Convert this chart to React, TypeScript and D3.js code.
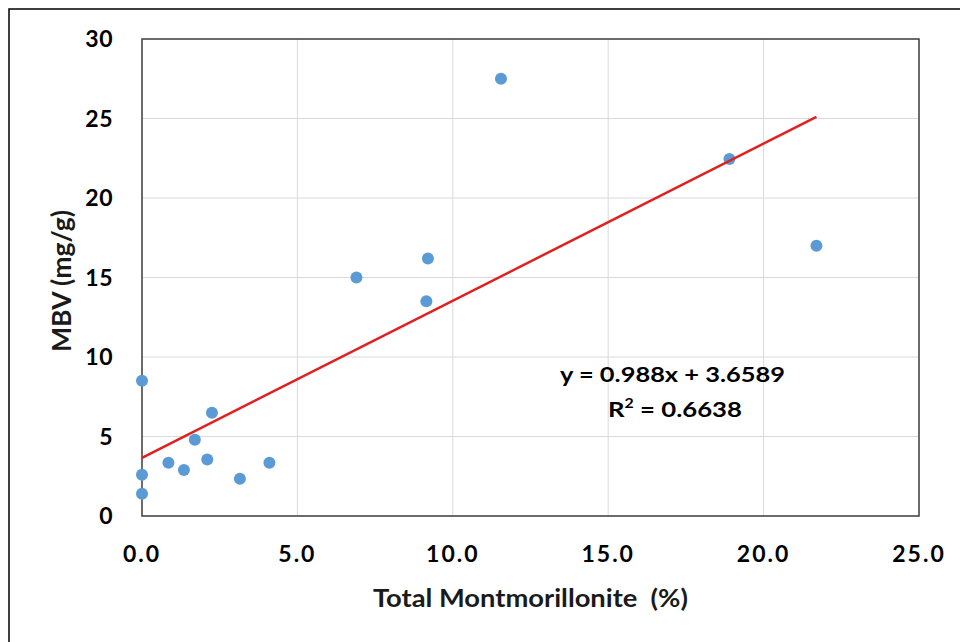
import React from "react";
import * as d3 from "d3";

const xValues = [0, 0, 0, 0.85, 1.35, 1.7, 2.1, 2.25, 3.15, 4.1, 6.9, 9.15, 9.2, 11.55, 18.9, 21.7];
const yValues = [8.5, 2.6, 1.4, 3.35, 2.9, 4.8, 3.55, 6.5, 2.35, 3.35, 15.0, 13.5, 16.2, 27.5, 22.45, 17.0];
const xTicks = [0, 5, 10, 15, 20, 25];
const yTicks = [0, 5, 10, 15, 20, 25, 30];
const slope = 0.988;
const intercept = 3.6589;
const fitRange = [0, 21.7];
const equationText = "y = 0.988x + 3.6589";
const r2Text = " = 0.6638";
const xTitle = "Total Montmorillonite  (%)";
const yTitle = "MBV (mg/g)";

export default function App() {
  const W = 960, H = 642;
  const left = 142, right = 919, top = 39, bottom = 516;
  const x = d3.scaleLinear().domain([0, 25]).range([left, right]);
  const y = d3.scaleLinear().domain([0, 30]).range([bottom, top]);
  const font = "Lato, 'Open Sans', sans-serif";
  const line = d3.line<number>().x((d) => x(d)).y((d) => y(slope * d + intercept));
  return (
    <svg width={W} height={H} style={{ position: "absolute", left: 0, top: 0, background: "#fff" }}>
      <rect x={9} y={9} width={W} height={H} fill="#fff" stroke="#000" strokeWidth={1.5} />
      {xTicks.map((t) => (
        <line key={"gx" + t} x1={x(t)} x2={x(t)} y1={top} y2={bottom} stroke="#d9d9d9" strokeWidth={1} />
      ))}
      {yTicks.map((t) => (
        <line key={"gy" + t} x1={left} x2={right} y1={y(t)} y2={y(t)} stroke="#d9d9d9" strokeWidth={1} />
      ))}
      <rect x={left} y={top} width={right - left} height={bottom - top} fill="none" stroke="#404040" strokeWidth={1.5} />
      {xValues.map((xv, i) => (
        <circle key={"p" + i} cx={x(xv)} cy={y(yValues[i])} r={6} fill="#5b9bd5" />
      ))}
      <path d={line(fitRange) || ""} stroke="#e0201f" strokeWidth={2.5} fill="none" />
      {yTicks.map((t) => (
        <text key={"ty" + t} x={113} y={y(t)} dy="0.36em" textAnchor="end" fontFamily={font} fontWeight={700} fontSize={23} letterSpacing={0.5} fill="#000">
          {t}
        </text>
      ))}
      {xTicks.map((t) => (
        <text key={"tx" + t} x={x(t)} y={562} textAnchor="middle" fontFamily={font} fontWeight={700} fontSize={23} letterSpacing={2} fill="#000">
          {t.toFixed(1)}
        </text>
      ))}
      <text x={373} y={607} fontFamily={font} fontWeight={700} fontSize={25} fill="#1a1a1a" textLength={315} lengthAdjust="spacingAndGlyphs" style={{ whiteSpace: "pre" }}>
        {xTitle}
      </text>
      <text transform={`translate(71,352) rotate(-90)`} fontFamily={font} fontWeight={700} fontSize={26} fill="#1a1a1a" textLength={142} lengthAdjust="spacingAndGlyphs">
        {yTitle}
      </text>
      <text x={560} y={382} fontFamily={font} fontWeight={700} fontSize={21} fill="#000" textLength={225} lengthAdjust="spacingAndGlyphs" style={{ whiteSpace: "pre" }}>
        {equationText}
      </text>
      <text x={608} y={417} fontFamily={font} fontWeight={700} fontSize={21} fill="#000" textLength={134} lengthAdjust="spacingAndGlyphs" style={{ whiteSpace: "pre" }}>
        R<tspan dy={-9} fontSize={13}>2</tspan><tspan dy={9}>{r2Text}</tspan>
      </text>
    </svg>
  );
}
